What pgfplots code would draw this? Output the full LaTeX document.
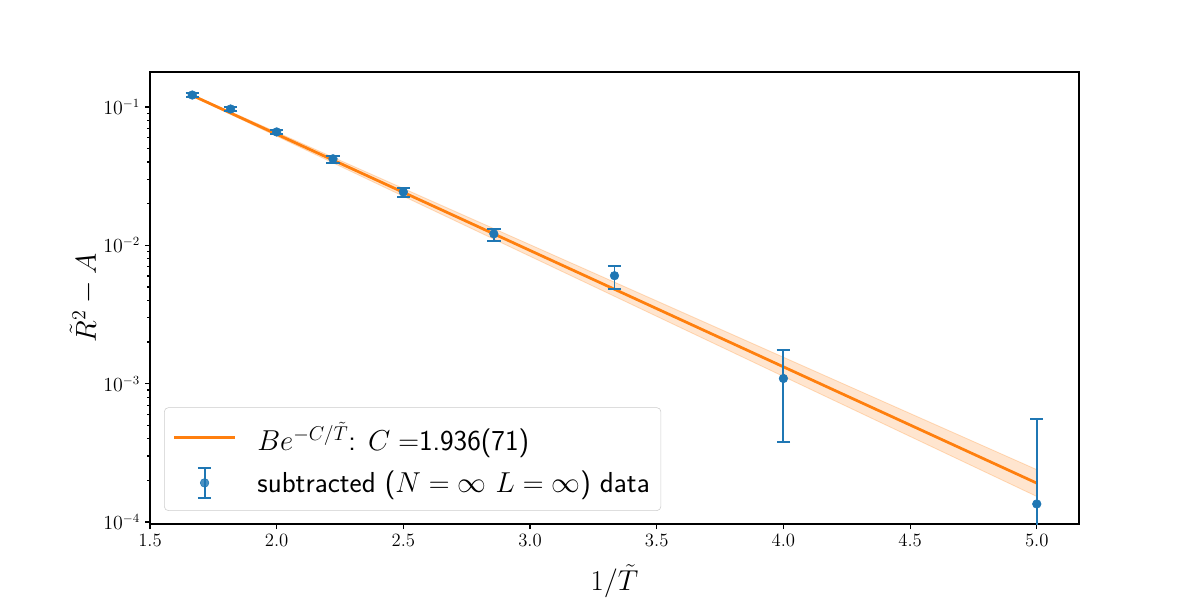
\documentclass[border=0pt]{standalone}
\usepackage{pgfplots}
\pgfplotsset{compat=1.18}
\definecolor{c0}{HTML}{1F77B4}
\definecolor{c1}{HTML}{FF7F0E}
\pgfplotstableread{
x y ep em
1.6667 0.1220 0.0040 0.0040
1.8182 0.0967 0.0030 0.0030
2.0000 0.0660 0.0025 0.0025
2.2222 0.0422 0.0022 0.0027
2.5000 0.0243 0.0018 0.0019
2.8571 0.0121 0.0011 0.0013
3.3333 0.00603 0.00108 0.00118
4.0000 0.00109 0.00067 0.00071
5.0000 0.000135 0.00042 0.000125
}\datatab
\begin{document}
\begin{tikzpicture}
\path[use as bounding box] (0pt,0pt) rectangle (864pt,432pt);
\begin{axis}[
  at={(108pt,54.72pt)}, anchor=south west,
  scale only axis, width=668.88pt, height=325.44pt,
  xmin=1.5, xmax=5.1667,
  ymode=log, ymin=9.67e-5, ymax=0.179,
  xtick={1.5,2.0,2.5,3.0,3.5,4.0,4.5,5.0},
  xticklabels={1.5,2.0,2.5,3.0,3.5,4.0,4.5,5.0},
  ytick={1e-4,1e-3,1e-2,1e-1},
  tick align=outside, tick pos=lower,
  major tick length=3.6pt, minor tick length=2.1pt,
  every tick/.style={black, line width=0.8pt},
  axis line style={line width=0.9pt, black},
  tick label style={font=\fontsize{13.5}{16}\selectfont},
  xlabel={$1/\tilde{T}$},
  ylabel={$\tilde{R}^2-A$},
  every axis x label/.style={at={(axis description cs:0.5,-0.126)}, anchor=center, font=\fontsize{20}{24}\selectfont},
  every axis y label/.style={at={(axis description cs:-0.071,0.5)}, anchor=center, rotate=90, font=\fontsize{20}{24}\selectfont},
  legend cell align=left,
  legend style={at={(axis description cs:0.0151,0.029)}, anchor=south west,
    draw=black!20, rounded corners=3pt, fill=white, fill opacity=0.8, text opacity=1,
    font=\fontsize{20.8}{24}\sffamily, row sep=8pt, inner xsep=6pt, inner ysep=8.5pt},
]
\addplot[fill=c1, fill opacity=0.2, draw=c1, draw opacity=0.25, line width=0.6pt, forget plot] coordinates {
(1.6667,0.1226) (2.5,0.02576) (3.3333,0.005414) (4.1667,0.001136) (5.0,0.000239)
(5.0,0.000153) (4.1667,0.000808) (3.3333,0.004281) (2.5,0.02264) (1.6667,0.1198)} -- cycle;
\addplot[c1, line width=2pt, no marks,
  legend image code/.code={\draw[c1, line width=2pt] (0pt,0pt) -- (44pt,0pt); \path (57pt,0pt);}]
  coordinates {(1.6667,0.1212) (2.5,0.02415) (3.3333,0.004814) (4.1667,0.000958) (5.0,0.000191)};
\addlegendentry{$Be^{-C/\tilde{T}}$: $C =$1.936(71)}
\addplot[c0, only marks, mark=*, mark size=3.1pt,
  legend image code/.code={
    \draw[c0, line width=1.35pt] (22pt,-10.8pt) -- (22pt,10.8pt);
    \draw[c0, line width=1.35pt] (17.2pt,-10.8pt) -- (26.8pt,-10.8pt);
    \draw[c0, line width=1.35pt] (17.2pt,10.8pt) -- (26.8pt,10.8pt);
    \fill[c0] (22pt,0pt) circle (3.1pt);
    \path (57pt,0pt);},
  error bars/.cd, y dir=both, y explicit,
  error bar style={line width=1.35pt, c0},
  error mark options={rotate=90, mark size=4.8pt, line width=1.35pt, c0}]
  table[x=x, y=y, y error plus=ep, y error minus=em] {\datatab};
\addlegendentry{subtracted ($N=\infty\ L=\infty$) data}
\end{axis}
\end{tikzpicture}
\end{document}
